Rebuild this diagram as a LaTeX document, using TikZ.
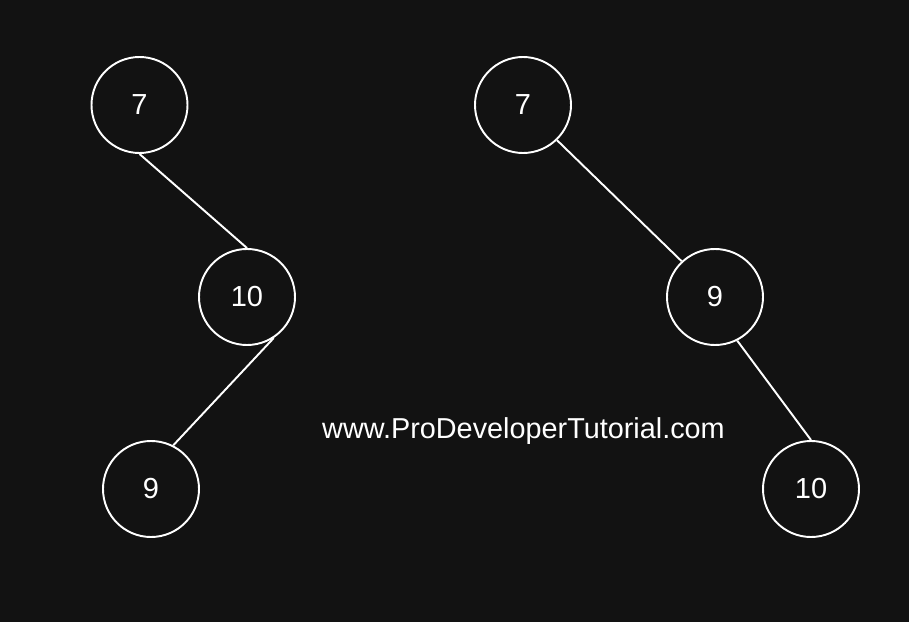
\documentclass[tikz,border=0pt]{standalone}
\usepackage{fontspec}
\setmainfont{Liberation Sans}
\definecolor{bg}{HTML}{121212}

\begin{document}
\begin{tikzpicture}[
  treenode/.style={circle, draw=white, line width=1.1pt, minimum size=1.92cm,
    inner sep=0pt, text=white, font=\fontsize{16.5}{19}\selectfont},
  treeedge/.style={draw=white, line width=1.1pt}
]
\fill[bg] (0,0) rectangle (18.18,-12.44);
\useasboundingbox (0,0) rectangle (18.18,-12.44);
% left tree
\node[treenode] (l7) at (2.79,-2.10) {7};
\node[treenode] (l10) at (4.94,-5.94) {10};
\node[treenode] (l9) at (3.02,-9.78) {9};
\draw[treeedge] (l7.south) -- (l10.north);
\draw[treeedge] (l10.-57) -- (l9.63);
% right tree
\node[treenode] (r7) at (10.46,-2.10) {7};
\node[treenode] (r9) at (14.30,-5.94) {9};
\node[treenode] (r10) at (16.22,-9.78) {10};
\draw[treeedge] (r7.-46) -- (r9.133);
\draw[treeedge] (r9.-63) -- (r10.north);
\node[text=white, font=\fontsize{16.4}{19}\selectfont] (site) at (10.47,-8.62) {www.ProDeveloperTutorial.com};
\end{tikzpicture}
\end{document}
